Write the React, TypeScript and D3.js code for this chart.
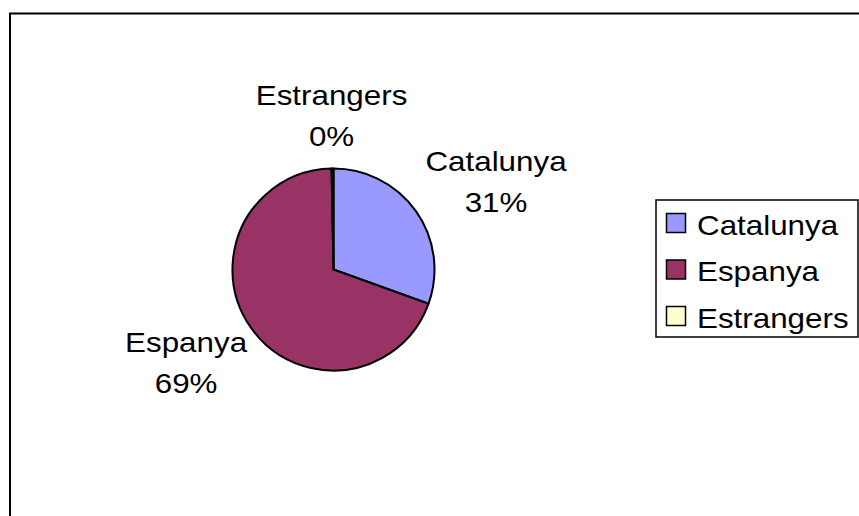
import React from 'react'
import * as d3 from 'd3'

// share of each origin (per mille)
const categories = ['Catalunya', 'Espanya', 'Estrangers']
const values = [305, 692, 3]
const percentLabels = ['31%', '69%', '0%']
const colors = ['#9999FF', '#993366', '#FFFFCC']

const width = 859
const height = 516
const cx = 333.5
const cy = 269.5
const radius = 101
const fontSize = 28
const stretch = 1.12 // labels in the original are a bit wider than Arial
const font = 'Arial, "Liberation Sans", Helvetica, sans-serif'

const App = () => {
  const pie = d3.pie<number>().sort(null).startAngle(0).endAngle(2 * Math.PI)
  const arcs = pie(values)
  const arc = d3.arc<d3.PieArcDatum<number>>().innerRadius(0).outerRadius(radius)

  // label blocks sit just outside the rim, pushed out along the mid angle
  const gap = 20
  const blockH = 70
  const labelPos = arcs.map((a, i) => {
    const mid = (a.startAngle + a.endAngle) / 2
    const s = Math.sin(mid)
    const c = Math.cos(mid)
    const w = categories[i].length * fontSize * 0.55 * stretch
    return {
      x: cx + (radius + gap) * s + s * w / 2,
      y: cy - (radius + gap) * c - c * blockH / 2,
    }
  })

  // legend rows
  const legendX = 656
  const legendY = 200
  const rowY = d3.scalePoint<string>()
    .domain(categories)
    .range([legendY + 23, legendY + 116])

  const stretchedText = (x: number, y: number, txt: string, anchor: string, key: string) => (
    <text
      key={key}
      transform={`translate(${x},${y}) scale(${stretch},1)`}
      textAnchor={anchor}
      fontSize={fontSize}
      fontFamily={font}
      fill="#000"
    >
      {txt}
    </text>
  )

  return (
    <svg width={width} height={height} style={{ position: 'absolute', left: 0, top: 0, background: '#fff' }}>
      <rect x={0} y={0} width={width} height={height} fill="#fff" />
      <rect x={10} y={13.5} width={width + 20} height={height + 20} fill="none" stroke="#000" strokeWidth={2} />

      <g transform={`translate(${cx},${cy})`}>
        {arcs.map((a, i) => (
          <path key={categories[i]} d={arc(a) || ''} fill={colors[i]} stroke="#000" strokeWidth={2} strokeLinejoin="round" />
        ))}
      </g>

      {labelPos.map((p, i) => (
        <g key={categories[i]}>
          {stretchedText(p.x, p.y - 8.5, categories[i], 'middle', 'n')}
          {stretchedText(p.x, p.y + 32.5, percentLabels[i], 'middle', 'p')}
        </g>
      ))}

      <rect x={legendX} y={legendY} width={202} height={137} fill="#fff" stroke="#000" strokeWidth={1.5} />
      {categories.map((name, i) => {
        const y = rowY(name) as number
        return (
          <g key={name}>
            <rect x={legendX + 10.5} y={y - 9.5} width={19} height={19} fill={colors[i]} stroke="#000" strokeWidth={1.5} />
            {stretchedText(legendX + 41, y + 11.5, name, 'start', 't')}
          </g>
        )
      })}
    </svg>
  )
}

export default App
